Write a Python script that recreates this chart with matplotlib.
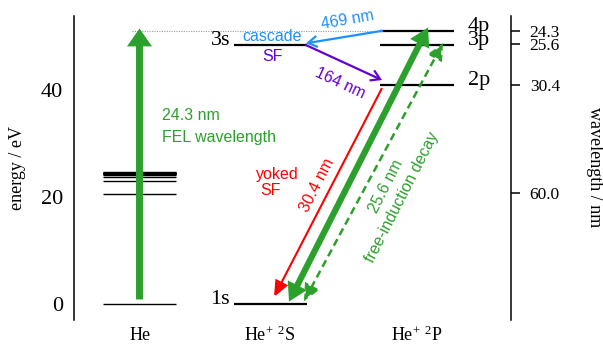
import matplotlib
matplotlib.use("Agg")
import matplotlib.pyplot as plt

# ---------------- data ----------------
he_levels = [0.0, 20.62, 22.92, 23.67, 24.01, 24.21, 24.33, 24.41, 24.46, 24.50, 24.53, 24.56, 24.59]
ion_s_names = ["1s", "3s"]
ion_s_energy = [0.0, 48.4]
ion_p_names = ["2p", "3p", "4p"]
ion_p_energy = [40.8, 48.4, 51.0]
energy_ticks = [0, 20, 40]
wavelength_ticks = [24.3, 25.6, 30.4, 60.0]
wavelength_labels = ["24.3", "25.6", "30.4", "60.0"]
column_labels = ["He", "He$^{+}$ $^{2}$S", "He$^{+}$ $^{2}$P"]
HC = 1239.84  # eV nm

# ---------------- style ----------------
plt.rcParams["font.family"] = ["Liberation Serif", "DejaVu Serif"]
plt.rcParams["mathtext.default"] = "regular"
SANS = ["Liberation Sans", "DejaVu Sans"]
GREEN = "#2ca02c"
BLUE = "#1e90ff"
PURPLE = "#6600cc"
RED = "#ff0000"

W, H = 603, 345
fig = plt.figure(figsize=(W / 100, H / 100), dpi=100)
L, R, T, B = 74, 511, 16, 320
ax = fig.add_axes([L / W, 1 - B / H, (R - L) / W, (B - T) / H])
E0_PX, SCALE = 304.3, 5.365  # layout: pixel row of 0 eV, px per eV
ax.set_ylim((E0_PX - B) / SCALE, (E0_PX - T) / SCALE)
ax.set_xlim(L, R)


def P(x, y):
    return (x / W, 1 - y / H)


# columns (layout, pixel-like x units)
col_x = {"He": (103, 176), "S": (234, 307), "P": (380, 454)}

# levels
for e in he_levels:
    ax.plot(col_x["He"], [e, e], color="black", lw=1.0, solid_capstyle="butt")
for e in ion_s_energy:
    ax.plot(col_x["S"], [e, e], color="black", lw=1.6, solid_capstyle="butt")
for e in ion_p_energy:
    ax.plot(col_x["P"], [e, e], color="black", lw=1.6, solid_capstyle="butt")

# level labels
for n, e in zip(ion_s_names, ion_s_energy):
    ax.text(col_x["S"][0] - 4, e, n, ha="right", va="baseline", fontsize=16)
for n, e in zip(ion_p_names, ion_p_energy):
    ax.text(col_x["P"][1] + 14, e, n, ha="left", va="baseline", fontsize=16)

e1s, e3s = ion_s_energy
e2p, e3p, e4p = ion_p_energy

# dotted guide at FEL photon energy
ax.plot([132, col_x["P"][0]], [e4p, e4p], color="#999999", lw=0.8, ls=(0, (1, 1.2)))


def arrow(xy, xytext, style, lw, color, ls="-"):
    ax.annotate("", xy=xy, xytext=xytext,
                arrowprops=dict(arrowstyle=style, mutation_scale=10, lw=lw, color=color,
                                ls=ls, shrinkA=0, shrinkB=0, joinstyle="miter",
                                capstyle="butt"))


# FEL arrow
arrow((139.5, e4p + 0.4), (139.5, 0.9), "-|>,head_length=0.6,head_width=0.42", 5, GREEN)
# blue cascade 4p -> 3s
arrow((306, e3s + 0.25), (383, e4p), "->,head_length=0.65,head_width=0.4", 1.6, BLUE)
# purple cascade 3s -> 2p
arrow((382, e2p + 1.0), (305, e3s), "->,head_length=0.65,head_width=0.4", 1.6, PURPLE)
# red yoked SF 2p -> 1s
arrow((274, e1s + 1.35), (382, e2p - 0.5), "-|>,head_length=0.95,head_width=0.4", 1.5, RED)
# thick green 1s <-> 4p
arrow((428, e4p + 0.6), (289, e1s + 0.5), "<|-|>,head_length=0.65,head_width=0.38", 4.5, GREEN)
# dashed green 1s <-> 3p
arrow((443, e3p + 0.3), (304, e1s + 0.6), "<|-|>,head_length=0.95,head_width=0.45", 1.8, GREEN,
      ls=(0, (3, 1.8)))

# annotation texts (sans)
fs = 11.5
fig.text(*P(272.5, 36.5), "cascade", color=BLUE, fontsize=fs, family=SANS, ha="center", va="center")
fig.text(*P(273, 56.5), "SF", color=PURPLE, fontsize=fs, family=SANS, ha="center", va="center")
fig.text(*P(348, 20), "469 nm", color=BLUE, fontsize=fs, family=SANS, ha="center", va="center",
         rotation=10, rotation_mode="anchor")
fig.text(*P(340, 83), "164 nm", color=PURPLE, fontsize=fs, family=SANS, ha="center", va="center",
         rotation=-25, rotation_mode="anchor")
fig.text(*P(162, 116), "24.3 nm", color=GREEN, fontsize=fs, family=SANS, ha="left", va="center")
fig.text(*P(162, 137), "FEL wavelength", color=GREEN, fontsize=fs, family=SANS, ha="left", va="center")
fig.text(*P(277, 175), "yoked", color=RED, fontsize=fs, family=SANS, ha="center", va="center")
fig.text(*P(271, 191), "SF", color=RED, fontsize=fs, family=SANS, ha="center", va="center")
fig.text(*P(317.5, 185), "30.4 nm", color=RED, fontsize=fs, family=SANS, ha="center", va="center",
         rotation=63, rotation_mode="anchor")
fig.text(*P(386.5, 186), "25.6 nm", color=GREEN, fontsize=fs, family=SANS, ha="center", va="center",
         rotation=63, rotation_mode="anchor")
fig.text(*P(402, 197), "free-induction decay", color=GREEN, fontsize=fs, family=SANS, ha="center",
         va="center", rotation=63, rotation_mode="anchor")

# axes styling
for s in ["top", "bottom", "right"]:
    ax.spines[s].set_visible(False)
ax.spines["left"].set_linewidth(1.1)
ax.set_xticks([])
ax.set_yticks(energy_ticks)
ax.set_yticklabels([str(t) for t in energy_ticks])
ax.tick_params(axis="y", length=0, pad=8, labelsize=16)

ax2 = ax.twinx()
ax2.set_ylim(ax.get_ylim())
for s in ["top", "bottom", "left"]:
    ax2.spines[s].set_visible(False)
ax2.spines["right"].set_linewidth(1.1)
ax2.set_yticks([HC / w for w in wavelength_ticks])
ax2.set_yticklabels(wavelength_labels)
ax2.tick_params(axis="y", direction="out", length=6.5, width=1.1, pad=7, labelsize=12.5)

fig.text(*P(17, 168), "energy / eV", rotation=90, ha="center", va="center", fontsize=13)
fig.text(*P(595, 167.5), "wavelength / nm", rotation=-90, ha="center", va="center", fontsize=13)

for lab, cx in zip(column_labels, [140, 270, 417]):
    fig.text(*P(cx, 335), lab, ha="center", va="center", fontsize=13)

fig.savefig("out.png", dpi=100)
